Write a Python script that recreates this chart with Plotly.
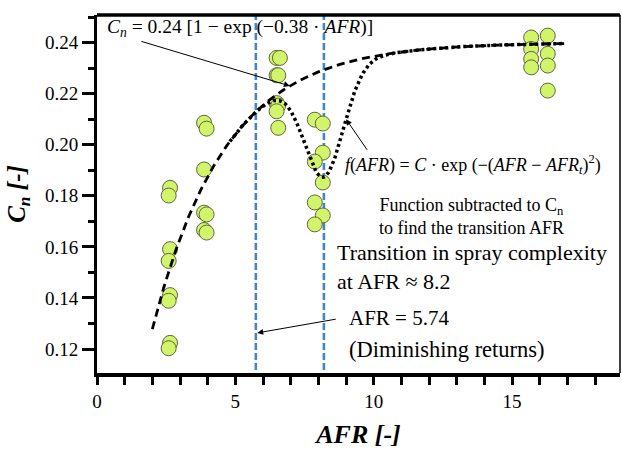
import numpy as np
import plotly.graph_objects as go

# Measured points: AFR and normalised complexity C_n
afr = [2.64, 2.59, 2.64, 2.59, 2.64, 2.59, 2.64, 2.59,
       3.87, 3.96, 3.87, 3.87, 3.96, 3.87, 3.96,
       6.49, 6.61, 6.49, 6.55, 6.49, 6.55, 6.49, 6.55,
       7.87, 8.16, 8.16, 7.87, 8.16, 7.87, 8.16, 7.87,
       15.69, 16.29, 15.69, 16.29, 15.69, 15.69, 16.29, 16.29]
cn = [0.1831, 0.1801, 0.1591, 0.1545, 0.1411, 0.1389, 0.1224, 0.1203,
      0.2086, 0.2063, 0.1903, 0.1734, 0.1727, 0.1666, 0.1656,
      0.2340, 0.2340, 0.2272, 0.2272, 0.2163, 0.2153, 0.2131, 0.2066,
      0.2098, 0.2083, 0.1969, 0.1934, 0.1852, 0.1774, 0.1723, 0.1688,
      0.2420, 0.2427, 0.2375, 0.2356, 0.2336, 0.2303, 0.2310, 0.2212]

# Exponential fit  C_n = A [1 - exp(-k AFR)]
fit_a = 0.24
fit_k = 0.38
# Gaussian dip subtracted to locate the transition
gauss_c = 0.042
afr_t = 8.2
afr_dim = 5.74

x_fit = np.linspace(2.0, 16.9, 300)
x_dip = np.linspace(4.8, 16.9, 300)


def fit(v):
    return fit_a * (1 - np.exp(-fit_k * v))


def dip(v):
    return fit(v) - gauss_c * np.exp(-(v - afr_t) ** 2)


SERIF = "Liberation Serif"

fig = go.Figure()

for xv in (afr_dim, afr_t):
    fig.add_trace(go.Scatter(x=[xv, xv], y=[0.1, 0.26], mode="lines",
                             line=dict(color="#3f88c5", width=2.6, dash="7px,3px"),
                             hoverinfo="skip", showlegend=False))

fig.add_trace(go.Scatter(x=afr, y=cn, mode="markers",
                         marker=dict(size=15, color="#d2f46a",
                                     line=dict(color="#5f6640", width=1)),
                         showlegend=False))

fig.add_trace(go.Scatter(x=x_fit, y=fit(x_fit), mode="lines",
                         line=dict(color="black", width=2.8, dash="8px,5px"),
                         showlegend=False))
fig.add_trace(go.Scatter(x=x_dip, y=dip(x_dip), mode="lines",
                         line=dict(color="black", width=3.5, dash="3px,3px"),
                         showlegend=False))

# frame: heavy top edge, thin right edge
fig.add_shape(type="line", xref="paper", yref="paper", x0=0, x1=1, y0=1, y1=1,
              line=dict(color="black", width=3.5))
fig.add_shape(type="line", xref="paper", yref="paper", x0=1, x1=1, y0=0, y1=1,
              line=dict(color="black", width=1.5))

arrow = dict(showarrow=True, arrowhead=2, arrowsize=1.2, arrowwidth=1,
             arrowcolor="black", text="", axref="pixel", ayref="pixel")

# arrows
x_c = 6.97
fig.add_annotation(x=x_c, y=fit(x_c), ax=-150, ay=-45, **arrow)
x_f = 9.0
fig.add_annotation(x=x_f, y=dip(x_f), ax=22, ay=32, **arrow)
fig.add_annotation(x=afr_dim + 0.05, y=0.1263, ax=80, ay=-14, **arrow)

txt = dict(showarrow=False, xref="paper", yref="paper")
fig.add_annotation(x=0.0153, y=0.9637, xanchor="left", yanchor="middle",
                   text="<i>C<sub>n</sub></i> = 0.24 [1 − exp (−0.38 · <i>AFR</i>)]",
                   font=dict(family=SERIF, size=19.5, color="black"), **txt)
fig.add_annotation(x=0.470, y=0.5813, xanchor="left", yanchor="middle",
                   text="<i>f</i>(<i>AFR</i>) = <i>C</i> · exp (−(<i>AFR</i> − <i>AFR<sub>t</sub></i>)<sup>2</sup>)",
                   font=dict(family=SERIF, size=18, color="black"), **txt)
fig.add_annotation(x=0.717, y=0.437, xanchor="center", yanchor="middle",
                   text="Function subtracted to C<sub>n</sub><br>to find the transition AFR",
                   font=dict(family=SERIF, size=18, color="black"), **txt)
fig.add_annotation(x=0.455, y=0.2967, xanchor="left", yanchor="middle", align="left",
                   text="Transition in spray complexity<br>at AFR ≈ 8.2",
                   font=dict(family=SERIF, size=22, color="black"), **txt)
fig.add_annotation(x=0.478, y=0.1543, xanchor="left", yanchor="middle",
                   text="AFR = 5.74",
                   font=dict(family=SERIF, size=21, color="black"), **txt)
fig.add_annotation(x=0.478, y=0.065, xanchor="left", yanchor="middle",
                   text="(Diminishing returns)",
                   font=dict(family=SERIF, size=22.5, color="black"), **txt)

fig.update_layout(
    width=622, height=450,
    margin=dict(l=97, r=2, t=15, b=77),
    plot_bgcolor="white", paper_bgcolor="white",
    font=dict(family=SERIF, color="black"),
    xaxis=dict(range=[0, 18.9], tickvals=[0, 5, 10, 15], ticks="outside",
               ticklen=8, tickwidth=3, tickcolor="black",
               showline=True, linewidth=3.5, linecolor="black",
               showgrid=False, zeroline=False,
               tickfont=dict(family=SERIF, size=19),
               minor=dict(dtick=1, tick0=0, ticks="outside", ticklen=8,
                          tickwidth=3, tickcolor="black", showgrid=False),
               title=dict(text="<b><i>AFR [-]</i></b>",
                          font=dict(family=SERIF, size=26), standoff=15)),
    yaxis=dict(range=[0.1106, 0.2508], tickvals=[0.12, 0.14, 0.16, 0.18, 0.20, 0.22, 0.24],
               tickformat=".2f", ticks="outside",
               ticklen=12, tickwidth=3, tickcolor="black",
               showline=True, linewidth=3, linecolor="black",
               showgrid=False, zeroline=False,
               tickfont=dict(family=SERIF, size=19),
               minor=dict(dtick=0.01, tick0=0.11, ticks="outside", ticklen=6,
                          tickwidth=3, tickcolor="black", showgrid=False),
               title=dict(text="<b><i>C<sub>n</sub> [-]</i></b>",
                          font=dict(family=SERIF, size=25), standoff=13)),
)

fig.write_html("out.html")
